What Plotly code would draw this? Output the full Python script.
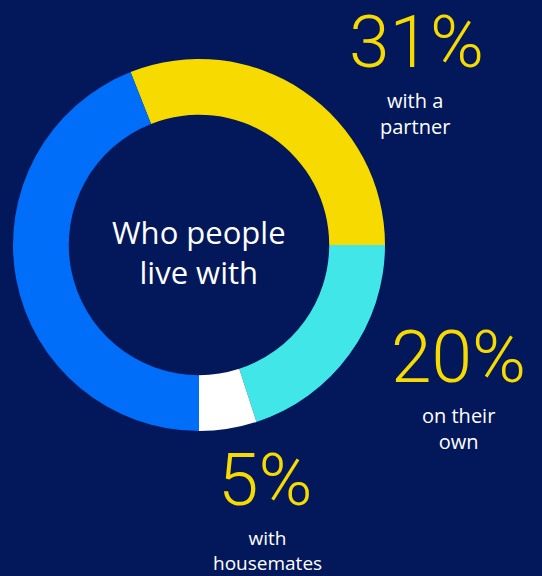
import plotly.graph_objects as go

categories = ["with a partner", "on their own", "with housemates", "other"]
values = [31, 20, 5, 44]
value_labels = ["31%", "20%", "5%"]
label_texts = ["with a<br>partner", "on their<br>own", "with<br>housemates"]

BG = "#02185A"
colors = ["#F7DB00", "#40E6E8", "#FFFFFF", "#006EF9"]
YELLOW = "#F7DB00"
NUM_FONT = "Roboto"
TXT_FONT = "Open Sans"

W, H = 542, 576
cx, cy, r = 199, 245, 186

fig = go.Figure(go.Pie(
    labels=categories, values=values, sort=False, direction="clockwise",
    rotation=-(values[0] / 100 * 360 - 90),
    hole=0.70, textinfo="none", hoverinfo="label+percent",
    marker=dict(colors=colors, line=dict(width=0)),
    domain=dict(x=[(cx - r) / W, (cx + r) / W], y=[1 - (cy + r) / H, 1 - (cy - r) / H]),
    showlegend=False,
))

num_pos = [(416, 42), (458, 357), (265, 480)]
lab_pos = [(415, 113), (458, 428), (267, 550)]
lab_sizes = [20, 20, 19]
ann = []
for (x, y), t in zip(num_pos, value_labels):
    ann.append(dict(x=x / W, y=1 - y / H, xref="paper", yref="paper", text=t, showarrow=False,
                    xanchor="center", yanchor="middle",
                    font=dict(family=NUM_FONT, size=73, color=YELLOW, weight=300)))
for (x, y), t, s in zip(lab_pos, label_texts, lab_sizes):
    ann.append(dict(x=x / W, y=1 - y / H, xref="paper", yref="paper", text=t, showarrow=False,
                    xanchor="center", yanchor="middle",
                    font=dict(family=TXT_FONT, size=s, color="white")))
ann.append(dict(x=cx / W, y=1 - 252 / H, xref="paper", yref="paper", text="Who people<br>live with",
                showarrow=False, xanchor="center", yanchor="middle",
                font=dict(family=TXT_FONT, size=31, color="white")))

fig.update_layout(width=W, height=H, margin=dict(l=0, r=0, t=0, b=0),
                  paper_bgcolor=BG, plot_bgcolor=BG, annotations=ann)
fig.write_html("out.html", config={"displayModeBar": False},
               post_script="document.body.style.margin='0';document.body.style.background='" + BG + "';")
